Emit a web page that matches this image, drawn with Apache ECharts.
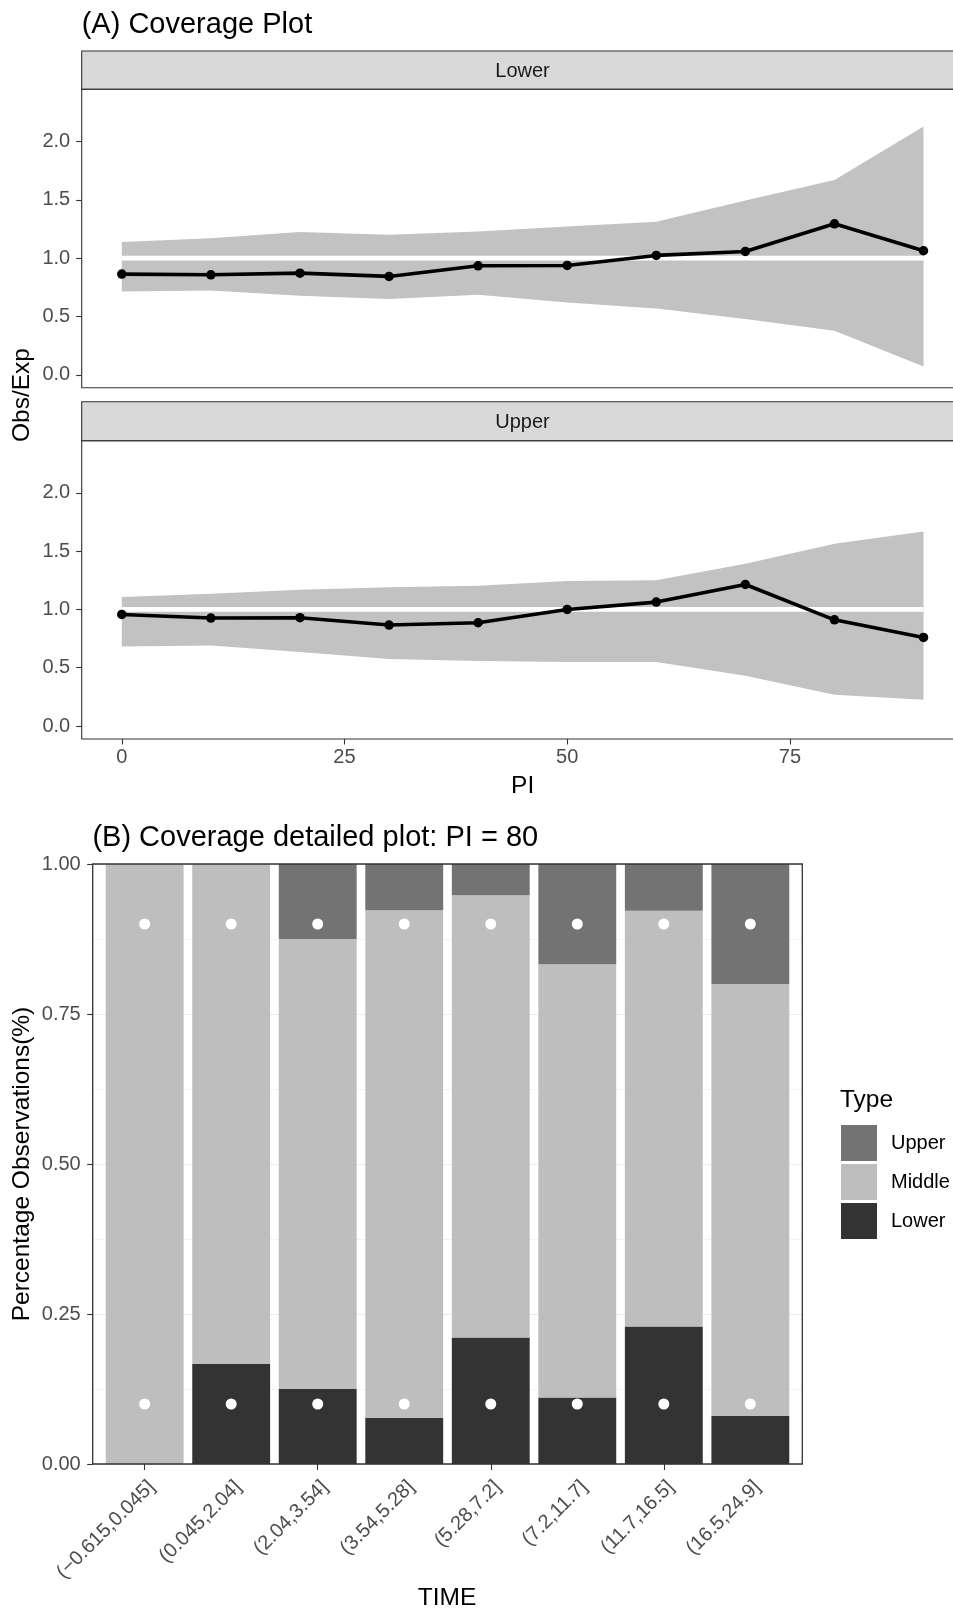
<!DOCTYPE html>
<html>
<head>
<meta charset="utf-8">
<script src="https://cdn.jsdelivr.net/npm/echarts/dist/echarts.min.js"></script>
<style>
html,body{margin:0;padding:0;background:#fff;}
#chart{width:953px;height:1609px;}
</style>
</head>
<body>
<div id="chart"></div>
<script>
// ---------- Panel A data ----------
const PI = [0, 10, 20, 30, 40, 50, 60, 70, 80, 90];
const piTicks = [0, 25, 50, 75];
const ratioTicks = [0, 0.5, 1.0, 1.5, 2.0];

const lowerMed = [0.863, 0.857, 0.871, 0.843, 0.934, 0.937, 1.023, 1.057, 1.294, 1.063];
const lowerHi  = [1.137, 1.171, 1.223, 1.200, 1.229, 1.271, 1.311, 1.494, 1.669, 2.129];
const lowerLo  = [0.714, 0.723, 0.677, 0.649, 0.686, 0.620, 0.569, 0.477, 0.377, 0.071];

const upperMed = [0.957, 0.926, 0.929, 0.866, 0.886, 1.000, 1.063, 1.214, 0.911, 0.760];
const upperHi  = [1.106, 1.134, 1.169, 1.191, 1.203, 1.243, 1.251, 1.391, 1.563, 1.669];
const upperLo  = [0.683, 0.691, 0.634, 0.574, 0.557, 0.549, 0.549, 0.431, 0.269, 0.226];

const refLevel = 1.0;

// ---------- Panel B data ----------
const timeBins = ['(\u22120.615,0.045]', '(0.045,2.04]', '(2.04,3.54]', '(3.54,5.28]',
                  '(5.28,7.2]', '(7.2,11.7]', '(11.7,16.5]', '(16.5,24.9]'];
const pctLower  = [0.000, 0.167, 0.125, 0.077, 0.211, 0.111, 0.229, 0.080];
const pctMiddle = [1.000, 0.833, 0.750, 0.846, 0.737, 0.722, 0.693, 0.720];
const pctUpper  = [0.000, 0.000, 0.125, 0.077, 0.052, 0.167, 0.078, 0.200];
const expHigh   = [0.9, 0.9, 0.9, 0.9, 0.9, 0.9, 0.9, 0.9];
const expLow    = [0.1, 0.1, 0.1, 0.1, 0.1, 0.1, 0.1, 0.1];

// ---------- styling ----------
const FONT = 'Liberation Sans';
const TICK_COL = '#4D4D4D';
const LINE_COL = '#333333';
const C_UPPER = '#737373', C_MIDDLE = '#BEBEBE', C_LOWER = '#333333';
const RIBBON = '#C2C2C2';
const FS_TICK = 20, FS_AXIS = 24.5, FS_TITLE = 29;

const chart = echarts.init(document.getElementById('chart'), null, {renderer: 'canvas'});

function ribbonSeries(gi, hi, lo) {
  return {
    type: 'custom', xAxisIndex: gi, yAxisIndex: gi, coordinateSystem: 'cartesian2d',
    data: [[PI[0], lo[0]]], silent: true,
    renderItem: function (params, api) {
      const pts = [];
      for (let i = 0; i < PI.length; i++) pts.push(api.coord([PI[i], hi[i]]));
      for (let i = PI.length - 1; i >= 0; i--) pts.push(api.coord([PI[i], lo[i]]));
      return {type: 'polygon', shape: {points: pts}, style: {fill: RIBBON, stroke: null}};
    }
  };
}
function refSeries(gi) {
  return {
    type: 'line', xAxisIndex: gi, yAxisIndex: gi, silent: true, symbol: 'none',
    data: [[PI[0], refLevel], [PI[PI.length - 1], refLevel]],
    lineStyle: {color: '#FFFFFF', width: 4.7}
  };
}
function medSeries(gi, med) {
  return {
    type: 'line', xAxisIndex: gi, yAxisIndex: gi, silent: true,
    data: PI.map((x, i) => [x, med[i]]),
    symbol: 'circle', symbolSize: 9.5, showSymbol: true,
    itemStyle: {color: '#000000', opacity: 1},
    lineStyle: {color: '#000000', width: 3.6}
  };
}
function piXAxis(gi, showLabels) {
  return {
    type: 'value', gridIndex: gi, min: -4.5, max: 94.5,
    axisLine: {show: false, onZero: false}, splitLine: {show: false},
    axisTick: {show: showLabels, customValues: piTicks, length: 5.5, lineStyle: {color: LINE_COL, width: 1.1}},
    axisLabel: {show: showLabels, customValues: piTicks, margin: 8, color: TICK_COL, fontSize: FS_TICK, fontFamily: FONT},
    name: showLabels ? 'PI' : '', nameLocation: 'middle', nameGap: 35,
    nameTextStyle: {fontSize: FS_AXIS, color: '#000', fontFamily: FONT}
  };
}
function ratioYAxis(gi) {
  return {
    type: 'value', gridIndex: gi, min: -0.111, max: 2.447,
    axisLine: {show: false, onZero: false}, splitLine: {show: false},
    axisTick: {show: true, customValues: ratioTicks, length: 5.5, lineStyle: {color: LINE_COL, width: 1.1}},
    axisLabel: {show: true, customValues: ratioTicks, margin: 11.5, color: TICK_COL, fontSize: FS_TICK, fontFamily: FONT,
                formatter: v => v.toFixed(1)}
  };
}

const barGridLeft = 101.4, barGridRight = 159.4, labelShift = 7;
const gridA = {left: 81.7, width: 881.9, outerBoundsMode: 'none', containLabel: false, show: true,
               borderColor: LINE_COL, borderWidth: 1.1, backgroundColor: 'transparent', z: 10};

const option = {
  animation: false,
  backgroundColor: '#FFFFFF',
  textStyle: {fontFamily: FONT},
  grid: [
    Object.assign({top: 89.3, height: 298.4}, gridA),
    Object.assign({top: 440.7, height: 298.3}, gridA),
    {left: 92.7, top: 864, right: 150.7, bottom: 145, show: true, borderColor: LINE_COL, borderWidth: 1.3,
     backgroundColor: 'transparent', z: 10, outerBoundsMode: 'none'},
    {left: barGridLeft, top: 864, right: barGridRight, bottom: 145, outerBoundsMode: 'none'},
    {left: barGridLeft + labelShift, top: 864, right: barGridRight - labelShift, bottom: 145, outerBoundsMode: 'none'}
  ],
  xAxis: [
    piXAxis(0, false),
    piXAxis(1, true),
    {type: 'value', gridIndex: 2, min: 0, max: 1, show: false},
    {type: 'category', gridIndex: 3, data: timeBins, axisLine: {show: false},
     axisTick: {show: true, alignWithLabel: true, length: 6, lineStyle: {color: LINE_COL, width: 1.1}},
     axisLabel: {show: false}, splitLine: {show: false}},
    {type: 'category', gridIndex: 4, data: timeBins, axisLine: {show: false}, axisTick: {show: false},
     axisLabel: {show: true, interval: 0, rotate: 45, margin: 20, color: TICK_COL, fontSize: FS_TICK, fontFamily: FONT},
     splitLine: {show: false}}
  ],
  yAxis: [
    ratioYAxis(0),
    ratioYAxis(1),
    {type: 'value', gridIndex: 2, min: 0, max: 1, interval: 0.25,
     axisLine: {show: false, onZero: false},
     axisTick: {show: true, length: 5.5, lineStyle: {color: LINE_COL, width: 1.1}},
     axisLabel: {show: true, margin: 12, color: TICK_COL, fontSize: FS_TICK, fontFamily: FONT, formatter: v => v.toFixed(2)},
     splitLine: {show: true, lineStyle: {color: '#EBEBEB', width: 1.1}},
     minorTick: {show: false, splitNumber: 2},
     minorSplitLine: {show: true, lineStyle: {color: '#EBEBEB', width: 0.6}}},
    {type: 'value', gridIndex: 3, min: 0, max: 1, show: false},
    {type: 'value', gridIndex: 4, min: 0, max: 1, show: false}
  ],
  legend: {
    orient: 'vertical', left: 841, top: 1125, padding: 0,
    data: ['Upper', 'Middle', 'Lower'],
    icon: 'rect', itemWidth: 36, itemHeight: 36, itemGap: 3,
    selectedMode: false,
    textStyle: {fontSize: FS_TICK, color: '#000', fontFamily: FONT, padding: [0, 0, 0, 9]}
  },
  series: [
    ribbonSeries(0, lowerHi, lowerLo),
    refSeries(0),
    medSeries(0, lowerMed),
    ribbonSeries(1, upperHi, upperLo),
    refSeries(1),
    medSeries(1, upperMed),
    {name: 'Lower', type: 'bar', stack: 'cov', xAxisIndex: 3, yAxisIndex: 3, data: pctLower,
     barCategoryGap: '10%', itemStyle: {color: C_LOWER}, silent: true},
    {name: 'Middle', type: 'bar', stack: 'cov', xAxisIndex: 3, yAxisIndex: 3, data: pctMiddle,
     barCategoryGap: '10%', itemStyle: {color: C_MIDDLE}, silent: true},
    {name: 'Upper', type: 'bar', stack: 'cov', xAxisIndex: 3, yAxisIndex: 3, data: pctUpper,
     barCategoryGap: '10%', itemStyle: {color: C_UPPER}, silent: true},
    {type: 'scatter', xAxisIndex: 3, yAxisIndex: 3, data: expHigh, symbol: 'circle', symbolSize: 11,
     itemStyle: {color: '#FFFFFF', opacity: 1}, z: 5, silent: true},
    {type: 'scatter', xAxisIndex: 3, yAxisIndex: 3, data: expLow, symbol: 'circle', symbolSize: 11,
     itemStyle: {color: '#FFFFFF', opacity: 1}, z: 5, silent: true}
  ],
  graphic: [
    {type: 'text', left: 81.7, top: 10, style: {text: '(A) Coverage Plot', fontSize: FS_TITLE, fill: '#000', fontFamily: FONT}},
    {type: 'rect', shape: {x: 81.7, y: 51, width: 890, height: 38.3}, style: {fill: '#D9D9D9', stroke: LINE_COL, lineWidth: 1.1}, z: 1},
    {type: 'text', x: 522.5, y: 71.8, style: {text: 'Lower', fontSize: FS_TICK, fill: '#1A1A1A', fontFamily: FONT, align: 'center', verticalAlign: 'middle'}, z: 2},
    {type: 'rect', shape: {x: 81.7, y: 401.7, width: 890, height: 39}, style: {fill: '#D9D9D9', stroke: LINE_COL, lineWidth: 1.1}, z: 1},
    {type: 'text', x: 522.5, y: 422.5, style: {text: 'Upper', fontSize: FS_TICK, fill: '#1A1A1A', fontFamily: FONT, align: 'center', verticalAlign: 'middle'}, z: 2},
    {type: 'text', x: 22.6, y: 395, rotation: Math.PI / 2, style: {text: 'Obs/Exp', fontSize: FS_AXIS, fill: '#000', fontFamily: FONT, align: 'center', verticalAlign: 'middle'}},
    {type: 'text', left: 92.4, top: 823, style: {text: '(B) Coverage detailed plot: PI = 80', fontSize: FS_TITLE, fill: '#000', fontFamily: FONT}},
    {type: 'text', x: 22.6, y: 1164, rotation: Math.PI / 2, style: {text: 'Percentage Observations(%)', fontSize: FS_AXIS, fill: '#000', fontFamily: FONT, align: 'center', verticalAlign: 'middle'}},
    {type: 'text', x: 447, y: 1598, style: {text: 'TIME', fontSize: FS_AXIS, fill: '#000', fontFamily: FONT, align: 'center', verticalAlign: 'middle'}},
    {type: 'text', x: 840, y: 1100, style: {text: 'Type', fontSize: FS_AXIS, fill: '#000', fontFamily: FONT, align: 'left', verticalAlign: 'middle'}}
  ]
};
chart.setOption(option);
</script>
</body>
</html>
